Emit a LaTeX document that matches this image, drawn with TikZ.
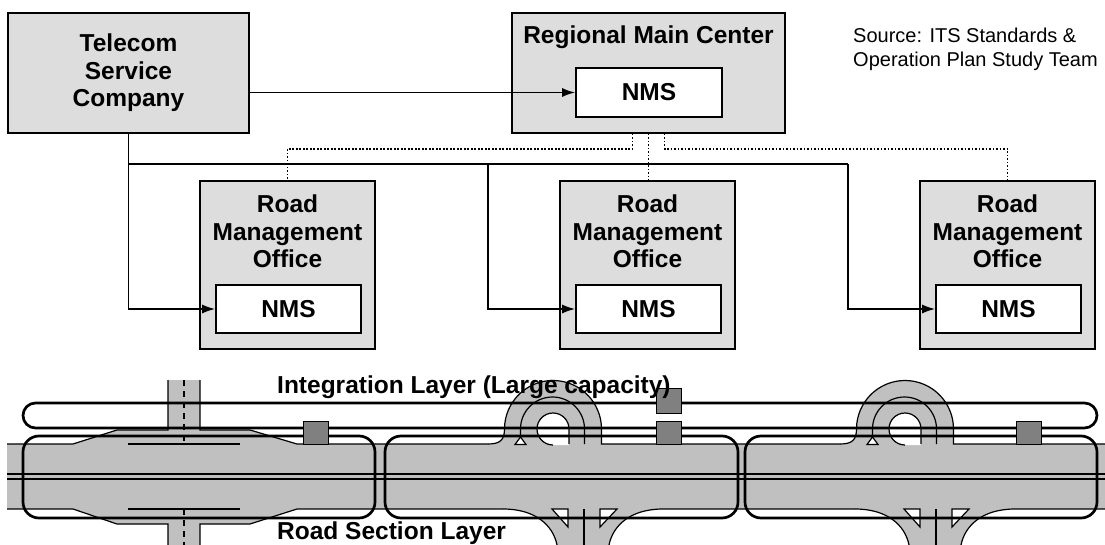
\documentclass[tikz,border=0pt]{standalone}
\usepackage{fontspec}
\setmainfont{Liberation Sans}
\usetikzlibrary{arrows.meta}
\definecolor{BoxGray}{RGB}{221, 221, 221}
\definecolor{RoadGray}{RGB}{192, 192, 192}
\definecolor{UnitGray}{RGB}{128, 128, 128}
\newcommand{\lblfont}{\fontsize{24.5}{27.5}\selectfont\bfseries}

\begin{document}
\begin{tikzpicture}[x=1pt, y=-1pt,
    box/.style={draw, line width=1.6pt, fill=BoxGray, inner sep=0pt},
    nms/.style={draw, line width=1.6pt, fill=white, minimum width=145pt, minimum height=48pt, font=\lblfont},
    title/.style={inner sep=0pt, align=center, font=\lblfont},
    link/.style={line width=1.7pt, -{Latex[length=13pt,width=9pt]}},
    bus/.style={line width=1.7pt},
    mgmt/.style={line width=1.7pt, dash pattern=on 1.7pt off 1.8pt},
    layer/.style={line width=2.7pt},
    roadline/.style={line width=1.2pt},
    unit/.style={draw, line width=1pt, fill=UnitGray}]
    \useasboundingbox (0,0) rectangle (1105,545);

    \node[box, title, minimum width=241pt, minimum height=120pt] (telecom) at (128.5,73) {Telecom\\Service\\Company};
    \node[box, minimum width=273pt, minimum height=120pt] (rmc) at (648.5,73) {};
    \node[title, anchor=north] (rmctitle) at (648.5,26) {Regional Main Center};
    \node[nms, minimum width=146pt, minimum height=49pt] (rmcnms) at (649,92.5) {NMS};
    \node[font=\fontsize{20}{24}\selectfont, align=left, anchor=north west, inner sep=0pt] (source) at (853,28) {Source: ITS Standards \&\\Operation Plan Study Team};

    \node[box, minimum width=175pt, minimum height=168pt] (office1) at (287.5,265) {};
    \node[title, anchor=north] (office1title) at (287.5,195) {Road\\Management\\Office};
    \node[nms] (nms1) at (288.5,309) {NMS};
    \node[box, minimum width=175pt, minimum height=168pt] (office2) at (647.5,265) {};
    \node[title, anchor=north] (office2title) at (647.5,195) {Road\\Management\\Office};
    \node[nms] (nms2) at (648.5,309) {NMS};
    \node[box, minimum width=175pt, minimum height=168pt] (office3) at (1007.5,265) {};
    \node[title, anchor=north] (office3title) at (1007.5,195) {Road\\Management\\Office};
    \node[nms] (nms3) at (1008.5,309) {NMS};

    \draw[link] (rmcnms.west -| telecom.east) -- (rmcnms.west);
    \draw[link] (telecom.south) |- (nms1.west);
    \coordinate (tap2) at (488,164);
    \coordinate (tap3) at (848,164);
    \draw[bus] (telecom.south |- tap3) -- (tap3);
    \draw[link] (tap2) |- (nms2.west);
    \draw[link] (tap3) |- (nms3.west);
    \draw[mgmt] ([xshift=-16pt]rmc.south) -- ++(0,15) -| (office1.north);
    \draw[mgmt] (rmc.south) -- (rmc.south |- office2.north);
    \draw[mgmt] ([xshift=16pt]rmc.south) -- ++(0,15) -| (office3.north);

    \fill[RoadGray] (7,444) rectangle (1105,509);
    \fill[RoadGray] (73,444) -- (117,430) -- (250,430) -- (297,444) -- (297,509) -- (250,524) -- (117,524) -- (73,509) -- cycle;
    \fill[RoadGray] (168,380) rectangle (200,545);
    \draw[roadline] (7,444) -- (73,444) -- (117,430) -- (168,430) -- (168,380)
        (200,380) -- (200,430) -- (250,430) -- (297,444) -- (488,444)
        (7,509) -- (73,509) -- (117,524) -- (168,524) -- (168,545)
        (200,545) -- (200,524) -- (250,524) -- (297,509) -- (503,509);
    \draw[roadline] (128,444) -- (240,444) (128,509) -- (240,509);
    \draw[roadline, dash pattern=on 6pt off 5pt] (184,380) -- (184,444) (184,509) -- (184,545);

    \foreach \dx in {0,352}{
      \begin{scope}[xshift=\dx]
        \fill[RoadGray] (488,444) .. controls (500,444) and (504.5,440) .. (504.5,429) arc (180:360:48.5) -- (601.5,444) -- cycle;
        \fill[RoadGray] (503,509) .. controls (535,509) and (553,525) .. (557,545) -- (609,545) .. controls (613,525) and (631,509) .. (663,509) -- cycle;
        \fill[white] (553,445) -- (569,445) -- (569,429) arc (0:-270:16) -- cycle;
        \draw[roadline] (569,444) -- (569,429) arc (0:-270:16);
        \draw[roadline] (584.5,444) -- (584.5,429) arc (0:-180:32) -- (520.5,438);
        \filldraw[fill=white, roadline] (520.5,437) -- (515,444.5) -- (526,444.5) -- cycle;
        \draw[roadline] (488,444) .. controls (500,444) and (504.5,440) .. (504.5,429) arc (180:360:48.5) -- (601.5,444) -- ++(238.5,0);
        \draw[roadline] (503,509) .. controls (535,509) and (553,525) .. (557,545)
            (609,545) .. controls (613,525) and (631,509) .. (663,509) -- ++(192,0);
        \draw[roadline] (584,509) -- (584,545);
        \filldraw[fill=white, roadline] (552,509) -- (568,509) -- (568,527) -- cycle;
        \filldraw[fill=white, roadline] (600,509) -- (617,509) -- (600,527) -- cycle;
      \end{scope}
    }
    \draw[roadline] (7,474) -- (1105,474) (7,479) -- (1105,479);

    \draw[layer, rounded corners=12.5pt] (23,403) rectangle (1097,428);
    \draw[layer, rounded corners=16pt] (23,436) rectangle (375,518);
    \draw[layer, rounded corners=16pt] (385,436) rectangle (738,518);
    \draw[layer, rounded corners=16pt] (745,436) rectangle (1097,518);

    \draw[unit] (303,421) rectangle (328,444);
    \draw[unit] (656,421) rectangle (681,444);
    \draw[unit] (656,388) rectangle (681,413);
    \draw[unit] (1016,421) rectangle (1041,444);

    \node[title, anchor=base west] (intlayer) at (277,393) {Integration Layer (Large capacity)};
    \node[title, anchor=base west] (seclayer) at (277,539) {Road Section Layer};
\end{tikzpicture}
\end{document}
